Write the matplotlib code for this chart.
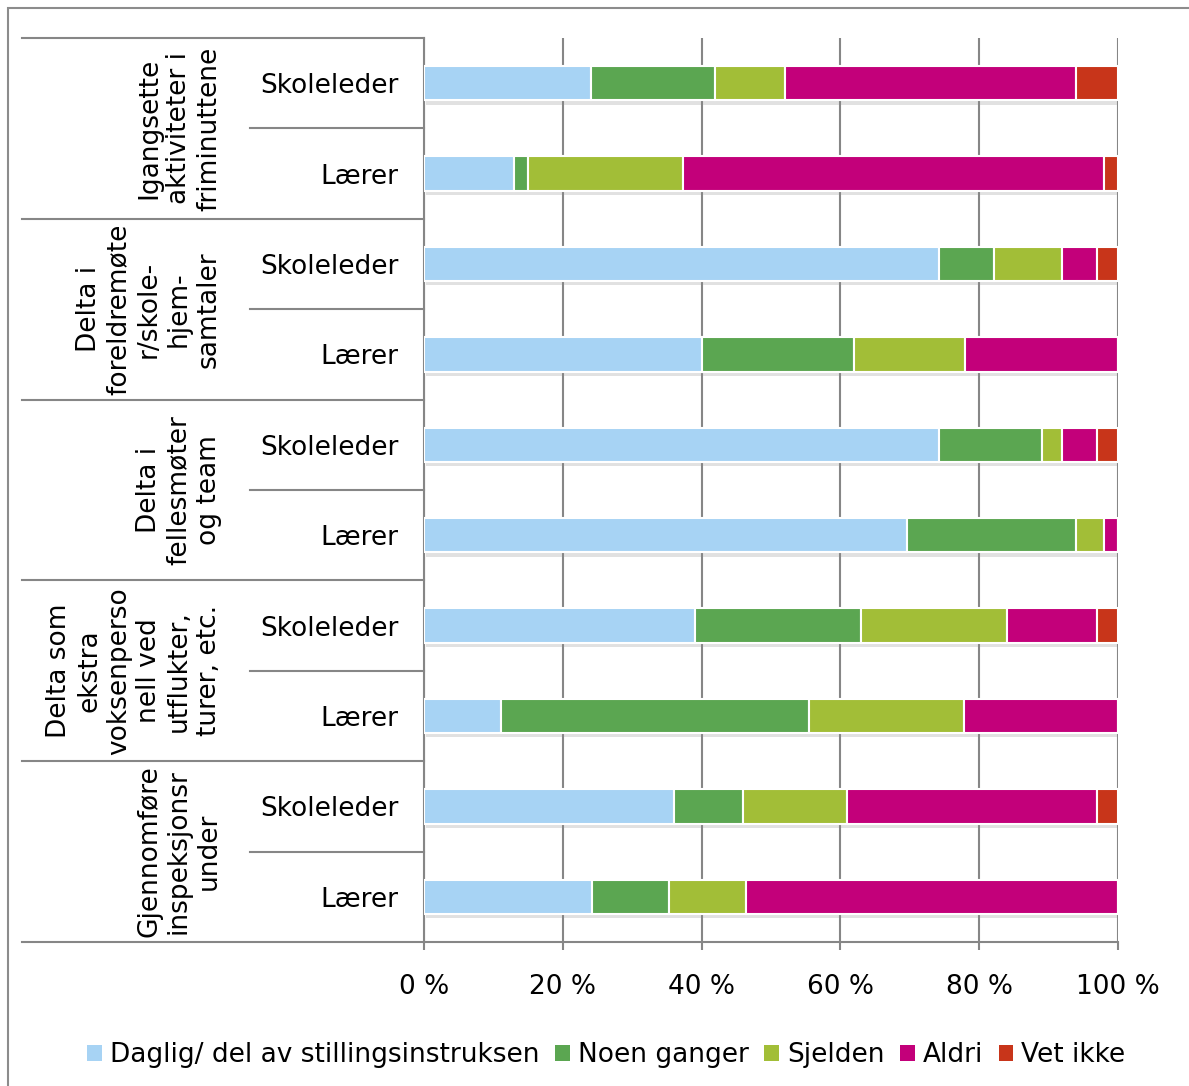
import matplotlib
matplotlib.use("Agg")
import matplotlib.pyplot as plt
import matplotlib.transforms as mtransforms
import matplotlib.patheffects as pe
from matplotlib.patches import Rectangle, Patch
import numpy as np

plt.rcParams['font.family'] = ['DejaVu Sans']

groups = ["Igangsette\naktiviteter i\nfriminuttene",
          "Delta i\nforeldremøte\nr/skole-\nhjem-\nsamtaler",
          "Delta i\nfellesmøter\nog team",
          "Delta som\nekstra\nvoksenperso\nnell ved\nutflukter,\nturer, etc.",
          "Gjennomføre\ninspeksjonsr\nunder"]
roles = ["Skoleleder", "Lærer"]

series_names = ["Daglig/ del av stillingsinstruksen", "Noen ganger", "Sjelden", "Aldri", "Vet ikke"]
daglig   = [24.0, 13.0, 74.2, 40.0, 74.2, 69.6, 39.0, 11.1, 36.0, 24.2]
noen     = [18.0,  2.0,  7.9, 22.0, 14.8, 24.4, 24.0, 44.4, 10.0, 11.1]
sjelden  = [10.0, 22.3,  9.9, 16.0,  3.0,  4.0, 21.0, 22.3, 15.0, 11.1]
aldri    = [42.0, 60.7,  5.0, 22.0,  5.0,  2.0, 13.0, 22.2, 36.0, 53.6]
vet_ikke = [ 6.0,  2.0,  3.0,  0.0,  3.0,  0.0,  3.0,  0.0,  3.0,  0.0]
colors = ["#A7D3F4", "#5BA651", "#A2BE37", "#C3007A", "#C8351A"]

xticks = [0, 20, 40, 60, 80, 100]
xticklabels = ["0 %", "20 %", "40 %", "60 %", "80 %", "100 %"]

FS = 19
W, H = 1189, 1086
fig = plt.figure(figsize=(W/100, H/100), dpi=100)
ax = fig.add_axes([424/W, 1-942/H, (1118-424)/W, (942-38)/H])

n = len(daglig)
y = np.arange(n)
left = np.zeros(n)
shadow = [pe.withSimplePatchShadow(offset=(1.5, -3), shadow_rgbFace='#8a8a8a', alpha=0.25)]
for vals, name, c in zip([daglig, noen, sjelden, aldri, vet_ikke], series_names, colors):
    v = np.array(vals)
    ax.barh(y, v, left=left, height=0.38, color=c, edgecolor='white', linewidth=1.5,
            zorder=3, path_effects=shadow)
    left += v

ax.set_xlim(0, 100)
ax.set_ylim(n - 0.5, -0.5)
ax.set_xticks(xticks)
ax.set_xticklabels(xticklabels, fontsize=FS)
ax.tick_params(axis='x', length=6, width=1.5, color='#868686', pad=17)
ax.set_yticks(y)
ax.set_yticklabels([roles[i % 2] for i in range(n)], fontsize=FS)
ax.tick_params(axis='y', length=0, pad=18.5)
ax.grid(axis='x', color='#868686', linewidth=1.5, zorder=0)
for s in ['top', 'right']:
    ax.spines[s].set_visible(False)
for s in ['left', 'bottom']:
    ax.spines[s].set_color('#868686')
    ax.spines[s].set_linewidth(1.5)

# table lines on the left
trans = mtransforms.blended_transform_factory(ax.transAxes, ax.transData)
x_outer = (22 - 424) / (1118 - 424)
x_inner = (250 - 424) / (1118 - 424)
for gi in range(len(groups) + 1):
    yb = gi * 2 - 0.5
    ax.plot([x_outer, 0], [yb, yb], transform=trans, color='#868686', lw=1.5, clip_on=False)
for gi in range(len(groups)):
    yb = gi * 2 + 0.5
    ax.plot([x_inner, 0], [yb, yb], transform=trans, color='#868686', lw=1.5, clip_on=False)

x_glabel = (222 - 424) / (1118 - 424)
for gi, g in enumerate(groups):
    ax.text(x_glabel, gi * 2 + 0.5, g, transform=trans, rotation=90, ha='right', va='center',
            multialignment='center', fontsize=FS, linespacing=1.2)

handles = [Patch(facecolor=c, edgecolor='none') for c in colors]
leg = ax.legend(handles, series_names, loc='center', bbox_to_anchor=(0.51, 1 - 1055/H),
                bbox_transform=fig.transFigure,
                ncol=5, frameon=False, fontsize=FS, handlelength=0.55, handleheight=0.55,
                handletextpad=0.3, columnspacing=0.6)

fig.add_artist(Rectangle((8/W, -0.01), 1.0, 1 - 8/H + 0.01, transform=fig.transFigure,
                         fill=False, edgecolor='#8c8c8c', linewidth=1.5))

fig.savefig("out.png", dpi=100)
